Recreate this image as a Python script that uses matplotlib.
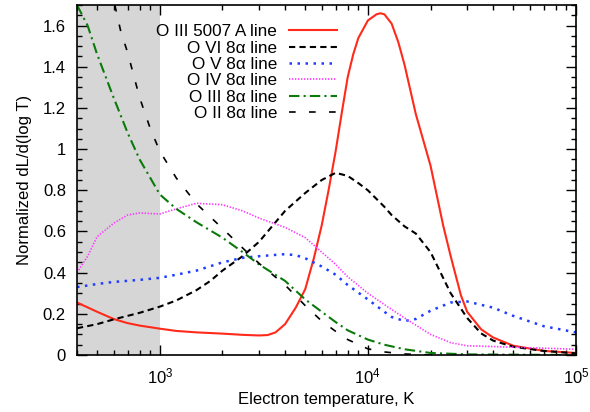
import numpy as np
import matplotlib
matplotlib.use('Agg')
import matplotlib.pyplot as plt
from matplotlib.ticker import FixedLocator, MultipleLocator, FuncFormatter, LogLocator

plt.rcParams['font.family'] = ['Liberation Sans', 'DejaVu Sans']
plt.rcParams['mathtext.fontset'] = 'custom'
plt.rcParams['mathtext.rm'] = 'Liberation Sans'
plt.rcParams['font.size'] = 12

# O III 5007 A
t_o3a = [400, 500, 600, 700, 800, 1000, 1200, 1500, 2000, 2500, 3000, 3300, 3600, 4000,
         4500, 5000, 5500, 6000, 6500, 7000, 7500, 8000, 8500, 9000, 10000, 11000, 11500,
         12000, 13000, 14000, 15000, 17000, 20000, 23000, 25000, 28000, 30000, 35000, 40000,
         50000, 70000, 100000]
y_o3a = [0.255, 0.21, 0.175, 0.155, 0.143, 0.128, 0.117, 0.110, 0.104, 0.098, 0.095, 0.097,
         0.11, 0.15, 0.23, 0.32, 0.47, 0.63, 0.81, 0.99, 1.18, 1.35, 1.46, 1.54, 1.625, 1.655,
         1.66, 1.655, 1.61, 1.52, 1.41, 1.17, 0.92, 0.63, 0.48, 0.29, 0.21, 0.125, 0.085,
         0.045, 0.02, 0.01]

# O VI 8alpha
t_o6 = [400, 500, 600, 800, 1000, 1200, 1500, 1750, 2000, 2500, 3000, 4000, 5000, 6000, 7000,
        8000, 9000, 10000, 12000, 13000, 15000, 17000, 20000, 25000, 30000, 35000, 40000,
        50000, 70000, 100000]
y_o6 = [0.13, 0.15, 0.173, 0.205, 0.235, 0.265, 0.315, 0.36, 0.41, 0.48, 0.55, 0.70, 0.787,
        0.85, 0.885, 0.87, 0.835, 0.80, 0.72, 0.68, 0.625, 0.59, 0.50, 0.30, 0.18, 0.105, 0.07,
        0.04, 0.02, 0.008]

# O V 8alpha
t_o5 = [400, 500, 600, 800, 1000, 1200, 1500, 2000, 2500, 3000, 4000, 4500, 5000, 6000,
        7000, 8000, 10000, 12000, 13000, 15000, 17000, 20000, 25000, 30000, 40000, 50000,
        70000, 100000]
y_o5 = [0.33, 0.345, 0.355, 0.365, 0.375, 0.39, 0.41, 0.45, 0.472, 0.48, 0.49, 0.485, 0.47,
        0.43, 0.39, 0.34, 0.27, 0.21, 0.185, 0.165, 0.175, 0.215, 0.255, 0.26, 0.23, 0.19,
        0.14, 0.11]

# O IV 8alpha
t_o4 = [400, 450, 500, 600, 700, 800, 1000, 1200, 1500, 2000, 2500, 3000, 4000, 5000, 6000,
        7000, 8000, 10000, 12000, 15000, 20000, 25000, 30000, 50000, 100000]
y_o4 = [0.40, 0.48, 0.575, 0.64, 0.68, 0.69, 0.685, 0.71, 0.737, 0.73, 0.70, 0.665, 0.62,
        0.57, 0.50, 0.44, 0.38, 0.30, 0.245, 0.18, 0.10, 0.06, 0.045, 0.038, 0.028]

# O III 8alpha
t_o3 = [400, 450, 500, 600, 700, 800, 1000, 1200, 1500, 2000, 2500, 3000, 4000, 5000, 6000,
        7000, 8000, 10000, 12000, 15000, 20000, 30000, 100000]
y_o3 = [1.70, 1.60, 1.46, 1.25, 1.08, 0.95, 0.78, 0.71, 0.645, 0.57, 0.50, 0.44, 0.36, 0.27,
        0.21, 0.16, 0.12, 0.075, 0.05, 0.028, 0.01, 0.003, 0.0]

# O II 8alpha
t_o2 = [608, 650, 700, 800, 900, 1000, 1200, 1500, 2000, 2500, 3000, 4000, 5000, 6000, 7000,
        8000, 10000, 12000, 15000, 20000]
y_o2 = [1.70, 1.57, 1.47, 1.25, 1.10, 0.99, 0.86, 0.735, 0.615, 0.52, 0.445, 0.34, 0.24,
        0.165, 0.115, 0.075, 0.03, 0.015, 0.005, 0.0]

fig = plt.figure(figsize=(5.9, 4.12), dpi=100)
ax = fig.add_axes([0.1305, 0.1383, 0.8457, 0.8495])

ax.axvspan(400, 1000, color='#d6d6d6', lw=0, zorder=0)

ax.plot(t_o3a, y_o3a, color='#ff2a1a', lw=1.5, label='O III 5007 A line')
ax.plot(t_o6, y_o6, color='black', lw=1.5, dashes=(3, 2), label='O VI 8\u03b1 line')
ax.plot(t_o5, y_o5, color='#1f3cff', lw=1.8, dashes=(1, 2.2), label='O V 8\u03b1 line')
ax.plot(t_o4, y_o4, color='#ff33ff', lw=1.2, dashes=(0.8, 1.0), label='O IV 8\u03b1 line')
ax.plot(t_o3, y_o3, color='#0a7a0a', lw=1.5, dashes=(5, 2, 1, 2), label='O III 8\u03b1 line')
ax.plot(t_o2, y_o2, color='black', lw=1.2, dashes=(4, 8), label='O II 8\u03b1 line')

ax.set_xscale('log')
ax.set_xlim(400, 1e5)
ax.set_ylim(0, 1.7)

ax.xaxis.set_major_locator(FixedLocator([1e3, 1e4, 1e5]))
ax.xaxis.set_minor_locator(LogLocator(base=10, subs=np.arange(2, 10), numticks=20))
ax.yaxis.set_major_locator(MultipleLocator(0.2))
ax.yaxis.set_minor_locator(MultipleLocator(0.05))
ax.yaxis.set_major_formatter(FuncFormatter(lambda v, p: f'{v:g}'))

ax.tick_params(which='both', direction='in', top=True, right=True, labelsize=12, width=1)
ax.tick_params(which='major', length=7, pad=8)
ax.tick_params(which='minor', length=3.5)
for s in ax.spines.values():
    s.set_linewidth(1.2)

ax.set_xlabel('Electron temperature, K', fontsize=12, labelpad=4)
ax.set_ylabel('Normalized dL/d(log T)', fontsize=12, labelpad=8)

ax.legend(loc='upper right', bbox_to_anchor=(0.545, 0.979), frameon=False,
          markerfirst=False, handlelength=2.8, handletextpad=0.7, labelspacing=0.08,
          fontsize=12.3, borderpad=0.2)

fig.savefig('out.png', dpi=100)
